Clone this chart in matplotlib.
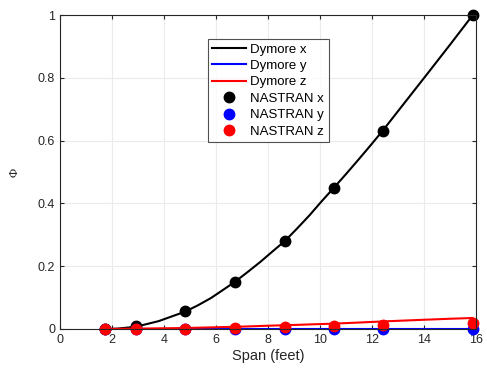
import matplotlib.pyplot as plt

plt.rcParams['font.family'] = ['Liberation Sans', 'DejaVu Sans']

# Dymore curves (span stations in feet)
dymore_span = [1.73, 2.2, 2.92, 3.8, 4.81, 5.3, 5.8, 6.25, 6.73, 7.2, 7.7,
               8.15, 8.65, 9.1, 9.6, 10.05, 10.54, 11.0, 11.5, 11.95, 12.42,
               13.3, 14.2, 15.0, 15.88]
dymore_x = [0.0, 0.001, 0.007, 0.025, 0.055, 0.075, 0.098, 0.123, 0.15,
            0.18, 0.213, 0.245, 0.28, 0.318, 0.362, 0.405, 0.45, 0.493, 0.541,
            0.585, 0.632, 0.725, 0.82, 0.905, 1.0]
dymore_y = [0.0] * len(dymore_span)
dymore_z = [0.0, 0.0005, 0.001, 0.002, 0.003, 0.004, 0.005, 0.006, 0.007,
            0.008, 0.0095, 0.0107, 0.012, 0.013, 0.0145, 0.0157, 0.017,
            0.0187, 0.0205, 0.0222, 0.024, 0.027, 0.03, 0.0325, 0.035]

# NASTRAN grid points
nastran_span = [1.73, 2.92, 4.81, 6.73, 8.65, 10.54, 12.42, 15.88]
nastran_x = [0.0, 0.008, 0.056, 0.15, 0.28, 0.448, 0.632, 1.0]
nastran_y = [0.0, 0.0, 0.0, 0.0, 0.0, 0.0, 0.0, 0.0]
nastran_z = [0.0, 0.0, 0.001, 0.003, 0.006, 0.009, 0.013, 0.018]

fig = plt.figure(figsize=(4.87, 3.79), dpi=100)
ax = fig.add_axes([0.123, 0.132, 0.854, 0.828])

ax.plot(dymore_span, dymore_x, color='black', lw=1.5, label='Dymore x')
ax.plot(dymore_span, dymore_y, color='blue', lw=1.5, label='Dymore y')
ax.plot(dymore_span, dymore_z, color='red', lw=1.5, label='Dymore z')
ax.plot(nastran_span, nastran_x, 'o', color='black', ms=7.5, clip_on=False,
        label='NASTRAN x')
ax.plot(nastran_span, nastran_y, 'o', color='blue', ms=7.5, clip_on=False,
        label='NASTRAN y')
ax.plot(nastran_span, nastran_z, 'o', color='red', ms=7.5, clip_on=False,
        label='NASTRAN z')

ax.set_xlim(0, 16)
ax.set_ylim(0, 1)
ax.set_xticks(range(0, 17, 2))
ax.set_yticks([0, 0.2, 0.4, 0.6, 0.8, 1])
ax.set_yticklabels(['0', '0.2', '0.4', '0.6', '0.8', '1'])
ax.grid(True, color='#ebebeb', lw=0.8)
ax.set_axisbelow(True)
ax.tick_params(direction='in', length=3, labelsize=9, colors='#262626',
               top=True, right=True)
for sp in ax.spines.values():
    sp.set_color('#262626')
    sp.set_linewidth(0.8)

ax.set_xlabel('Span (feet)', fontsize=10.5, color='#262626', labelpad=2)
ax.set_ylabel('Φ', fontsize=9, family=['Liberation Serif', 'DejaVu Serif'],
              color='#262626', labelpad=12)

leg = ax.legend(loc='upper left', bbox_to_anchor=(0.355, 0.925), fontsize=9.5,
                frameon=True, fancybox=False, edgecolor='#262626',
                handlelength=2.6, borderpad=0.35, labelspacing=0.32,
                handletextpad=0.3, borderaxespad=0)
leg.get_frame().set_linewidth(0.8)

fig.savefig('out.png', dpi=100)
